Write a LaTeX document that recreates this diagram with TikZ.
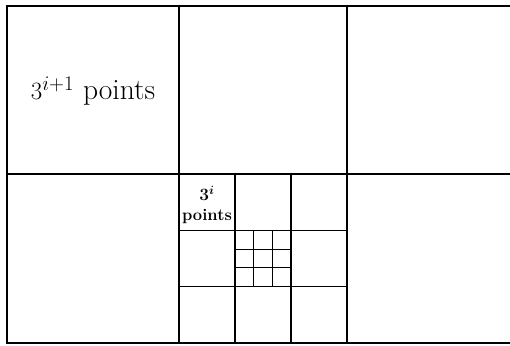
\documentclass[tikz,border=0pt]{standalone}
\usepackage{amsmath}
\begin{document}
\begin{tikzpicture}[x=1pt,y=-1pt,line width=1.1pt]
  \useasboundingbox (0,0) rectangle (510,345);
  % coarse grid (runs off on the right)
  \draw (510,6) -- (7,6) -- (7,343) -- (510,343);
  \draw (7,174) -- (510,174);
  \foreach \x in {179,347} {
    \draw (\x,6) -- (\x,343);
  }
  % middle cell split in thirds
  \foreach \t in {1,2} {
    \draw ({179+56*\t},174) -- ({179+56*\t},343);
    \draw (179,{174+56.33*\t}) -- (347,{174+56.33*\t});
  }
  % centre of the centre, split again
  \foreach \t in {1,2} {
    \draw[line width=0.9pt] ({235+18.67*\t},230.33) -- ({235+18.67*\t},286.67);
    \draw[line width=0.9pt] (235,{230.33+18.78*\t}) -- (291,{230.33+18.78*\t});
  }
  % labels
  \node[font=\fontsize{29.5}{34}\selectfont] (bigpts) at (93,91) {$3^{i+1}$ points};
  \node[font=\fontsize{16.5}{20}\selectfont\bfseries, align=center, inner sep=0pt]
    (smallpts) at (207,205) {$\boldsymbol{3^i}$\\points};
\end{tikzpicture}
\end{document}
